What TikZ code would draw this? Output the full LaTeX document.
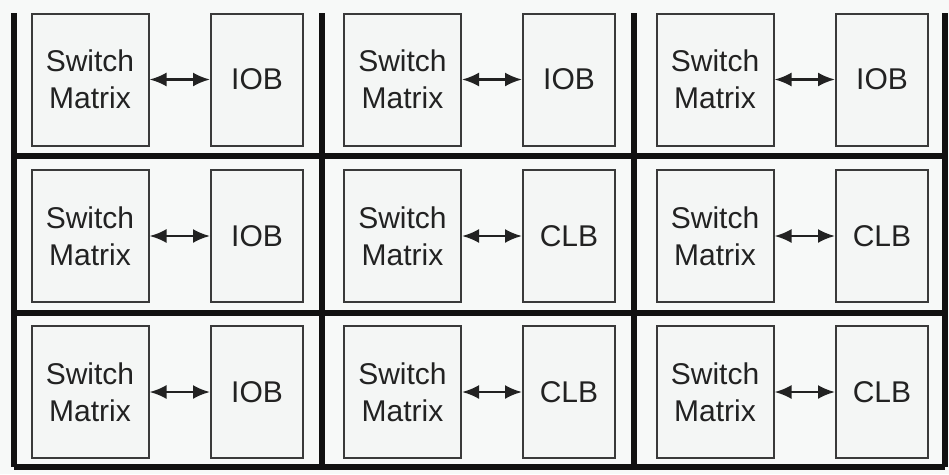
\documentclass[tikz,border=0pt]{standalone}
\usepackage{fontspec}
\setmainfont{Liberation Sans}
\usetikzlibrary{arrows.meta, positioning, calc}
\definecolor{paper}{HTML}{F7F9F8}
\definecolor{boxfill}{HTML}{F4F6F5}
\definecolor{boxline}{HTML}{3A3A3A}
\definecolor{gridline}{HTML}{111111}
\definecolor{ink}{HTML}{222222}

\begin{document}
\begin{tikzpicture}[
  x=1pt, y=-1pt,
  swbox/.style={
    draw=boxline, line width=2pt, fill=boxfill,
    minimum width=117pt, minimum height=132pt, font=\fontsize{30}{37}\selectfont,
    text=ink, align=center, inner sep=0pt
  },
  blkbox/.style={
    draw=boxline, line width=2pt, fill=boxfill,
    minimum width=92pt, minimum height=132pt, font=\fontsize{30}{37}\selectfont,
    text=ink, align=center, inner sep=0pt
  },
  link/.style={{Latex[length=17pt, width=14pt]}-{Latex[length=17pt, width=14pt]},
    line width=2.5pt, ink},
  gridbar/.style={line width=5.5pt, gridline},
]

% Background
\fill[paper] (0,0) rectangle (949,474);
\useasboundingbox (0,0) rectangle (949,474);

% =============================================
% Tile grid
% =============================================
\coordinate (g00) at (14,13);
\coordinate (g10) at (322,13);
\coordinate (g20) at (634,13);
\coordinate (g30) at (945,13);
\coordinate (g03) at (14,467);
\coordinate (g13) at (322,467);
\coordinate (g23) at (634,467);
\coordinate (g33) at (945,467);
\coordinate (g01) at (14,156);
\coordinate (g31) at (945,156);
\coordinate (g02) at (14,313);
\coordinate (g32) at (945,313);

\draw[gridbar] (g00) -- (g03);
\draw[gridbar] (g10) -- (g13);
\draw[gridbar] (g20) -- (g23);
\draw[gridbar] (g30) -- (g33);
\draw[gridbar] (g01) -- (g31);
\draw[gridbar] (g02) -- (g32);
\draw[gridbar] (g03) -- (g33);

% =============================================
% Row 1: IOB tiles
% =============================================
\node[swbox] (sm11) at (90,79.5) {Switch\\Matrix};
\node[blkbox] (iob11) at (257,79.5) {IOB};
\draw[link] (sm11.east) -- (iob11.west);

\node[swbox] (sm12) at (402.5,79.5) {Switch\\Matrix};
\node[blkbox] (iob12) at (569,79.5) {IOB};
\draw[link] (sm12.east) -- (iob12.west);

\node[swbox] (sm13) at (715,79.5) {Switch\\Matrix};
\node[blkbox] (iob13) at (882,79.5) {IOB};
\draw[link] (sm13.east) -- (iob13.west);

% =============================================
% Row 2: IOB + CLB tiles
% =============================================
\node[swbox] (sm21) at (90,236) {Switch\\Matrix};
\node[blkbox] (iob21) at (257,236) {IOB};
\draw[link] (sm21.east) -- (iob21.west);

\node[swbox] (sm22) at (402.5,236) {Switch\\Matrix};
\node[blkbox] (clb22) at (569,236) {CLB};
\draw[link] (sm22.east) -- (clb22.west);

\node[swbox] (sm23) at (715,236) {Switch\\Matrix};
\node[blkbox] (clb23) at (882,236) {CLB};
\draw[link] (sm23.east) -- (clb23.west);

% =============================================
% Row 3: IOB + CLB tiles
% =============================================
\node[swbox] (sm31) at (90,392) {Switch\\Matrix};
\node[blkbox] (iob31) at (257,392) {IOB};
\draw[link] (sm31.east) -- (iob31.west);

\node[swbox] (sm32) at (402.5,392) {Switch\\Matrix};
\node[blkbox] (clb32) at (569,392) {CLB};
\draw[link] (sm32.east) -- (clb32.west);

\node[swbox] (sm33) at (715,392) {Switch\\Matrix};
\node[blkbox] (clb33) at (882,392) {CLB};
\draw[link] (sm33.east) -- (clb33.west);

\end{tikzpicture}
\end{document}
